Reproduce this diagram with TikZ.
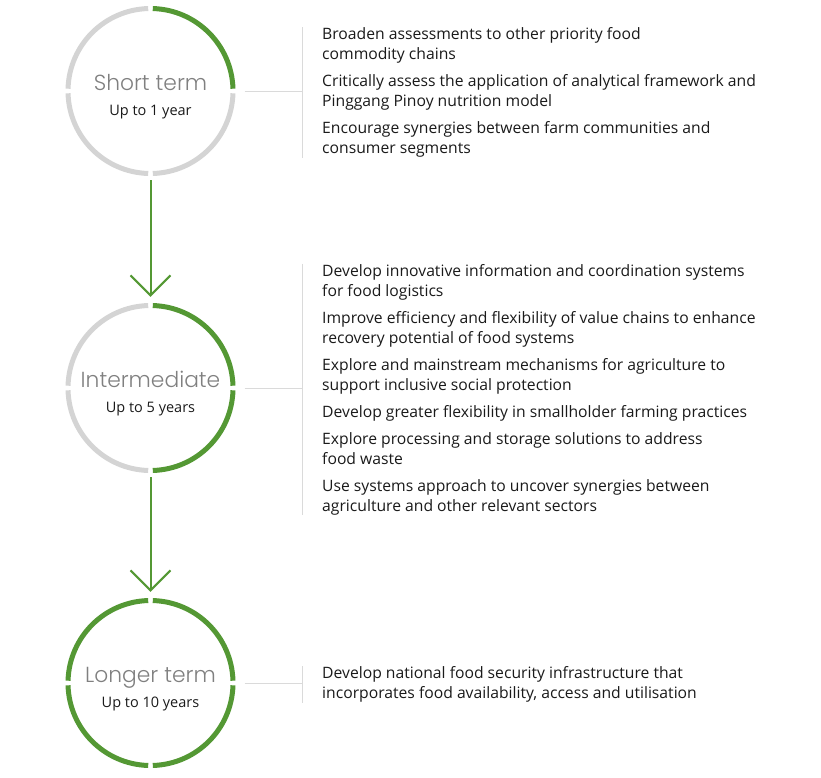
\documentclass[tikz,border=0pt]{standalone}
\usepackage{fontspec}
\setmainfont{Open Sans}
\newfontfamily\titlefont{Poppins Light}
\usepackage{tikz}
\usetikzlibrary{positioning,arrows.meta}
\definecolor{ringgreen}{RGB}{84,152,52}
\definecolor{ringgray}{RGB}{212,212,212}
\definecolor{guidegray}{RGB}{218,218,218}
\definecolor{titlegray}{RGB}{128,128,128}
\definecolor{bodyblack}{RGB}{26,26,26}

\begin{document}
\begin{tikzpicture}[x=1pt,y=1pt]
    \tikzstyle{stage}=[circle, minimum size=170pt, inner sep=0pt]
    \tikzstyle{ring}=[line width=5pt]
    \tikzstyle{stagetitle}=[anchor=base, inner sep=0pt, text=titlegray, font=\titlefont\fontsize{21.8}{26}\selectfont]
    \tikzstyle{stagesub}=[anchor=base, inner sep=0pt, text=bodyblack, font=\fontsize{14.5}{17}\selectfont]
    \tikzstyle{steps}=[anchor=west, align=left, inner xsep=0pt, inner ysep=0pt, text=bodyblack, font=\fontsize{15.7}{20}\selectfont]
    \tikzstyle{guide}=[guidegray, line width=1pt]
    \tikzstyle{flow}=[ringgreen, line width=2pt, shorten <=4pt, shorten >=6pt, -{Straight Barb[length=20pt,width=40pt,line width=2pt]}]

    \useasboundingbox (0,0) rectangle (821,-777);

    \node[stage] (short) at (150.5,-91) {};
    \node[stage] (inter) at (150.5,-388) {};
    \node[stage] (longer) at (150.5,-683) {};

    % rings, one quarter at a time
    \foreach \a/\c in {0/ringgreen,90/ringgray,180/ringgray,270/ringgray}
        \draw[ring,\c] ([shift={(\a+1.6:82.5)}]short.center) arc[start angle=\a+1.6, end angle=\a+88.4, radius=82.5];
    \foreach \a/\c in {0/ringgreen,90/ringgray,180/ringgray,270/ringgreen}
        \draw[ring,\c] ([shift={(\a+1.6:82.5)}]inter.center) arc[start angle=\a+1.6, end angle=\a+88.4, radius=82.5];
    \foreach \a/\c in {0/ringgreen,90/ringgreen,180/ringgreen,270/ringgreen}
        \draw[ring,\c] ([shift={(\a+1.6:82.5)}]longer.center) arc[start angle=\a+1.6, end angle=\a+88.4, radius=82.5];

    \node[stagetitle] (short-t) at ([yshift=1pt]short.center) {Short term};
    \node[stagesub] (short-s) at ([yshift=-24pt]short.center) {Up to 1 year};
    \node[stagetitle] (inter-t) at ([yshift=1pt]inter.center) {Intermediate};
    \node[stagesub] (inter-s) at ([yshift=-24pt]inter.center) {Up to 5 years};
    \node[stagetitle] (longer-t) at ([yshift=1pt]longer.center) {Longer term};
    \node[stagesub] (longer-s) at ([yshift=-24pt]longer.center) {Up to 10 years};

    \draw[flow] (short) -- (inter);
    \draw[flow] (inter) -- (longer);

    % action lists
    \node[steps] (short-list) at (322,-92.5) {Broaden assessments to other priority food\\
        commodity chains\\[7pt]
        Critically assess the application of analytical framework and\\
        Pinggang Pinoy nutrition model\\[7pt]
        Encourage synergies between farm communities and\\
        consumer segments};
    \node[steps] (inter-list) at (322,-389.5) {Develop innovative information and coordination systems\\
        for food logistics\\[7pt]
        Improve efficiency and flexibility of value chains to enhance\\
        recovery potential of food systems\\[7pt]
        Explore and mainstream mechanisms for agriculture to\\
        support inclusive social protection\\[7pt]
        Develop greater flexibility in smallholder farming practices\\[7pt]
        Explore processing and storage solutions to address\\
        food waste\\[7pt]
        Use systems approach to uncover synergies between\\
        agriculture and other relevant sectors};
    \node[steps] (longer-list) at (322,-684.5) {Develop national food security infrastructure that\\
        incorporates food availability, access and utilisation};

    % brackets beside the lists
    \coordinate (short-bar) at ([xshift=-20pt]short-list.west);
    \coordinate (inter-bar) at ([xshift=-20pt]inter-list.west);
    \coordinate (longer-bar) at ([xshift=-20pt]longer-list.west);
    \draw[guide] ([xshift=9pt]short.east) -- (short.east -| short-bar);
    \draw[guide] ([xshift=-20pt]short-list.north west) -- ([xshift=-20pt]short-list.south west);
    \draw[guide] ([xshift=9pt]inter.east) -- (inter.east -| inter-bar);
    \draw[guide] ([xshift=-20pt]inter-list.north west) -- ([xshift=-20pt]inter-list.south west);
    \draw[guide] ([xshift=9pt]longer.east) -- (longer.east -| longer-bar);
    \draw[guide] ([xshift=-20pt]longer-list.north west) -- ([xshift=-20pt]longer-list.south west);
\end{tikzpicture}
\end{document}
